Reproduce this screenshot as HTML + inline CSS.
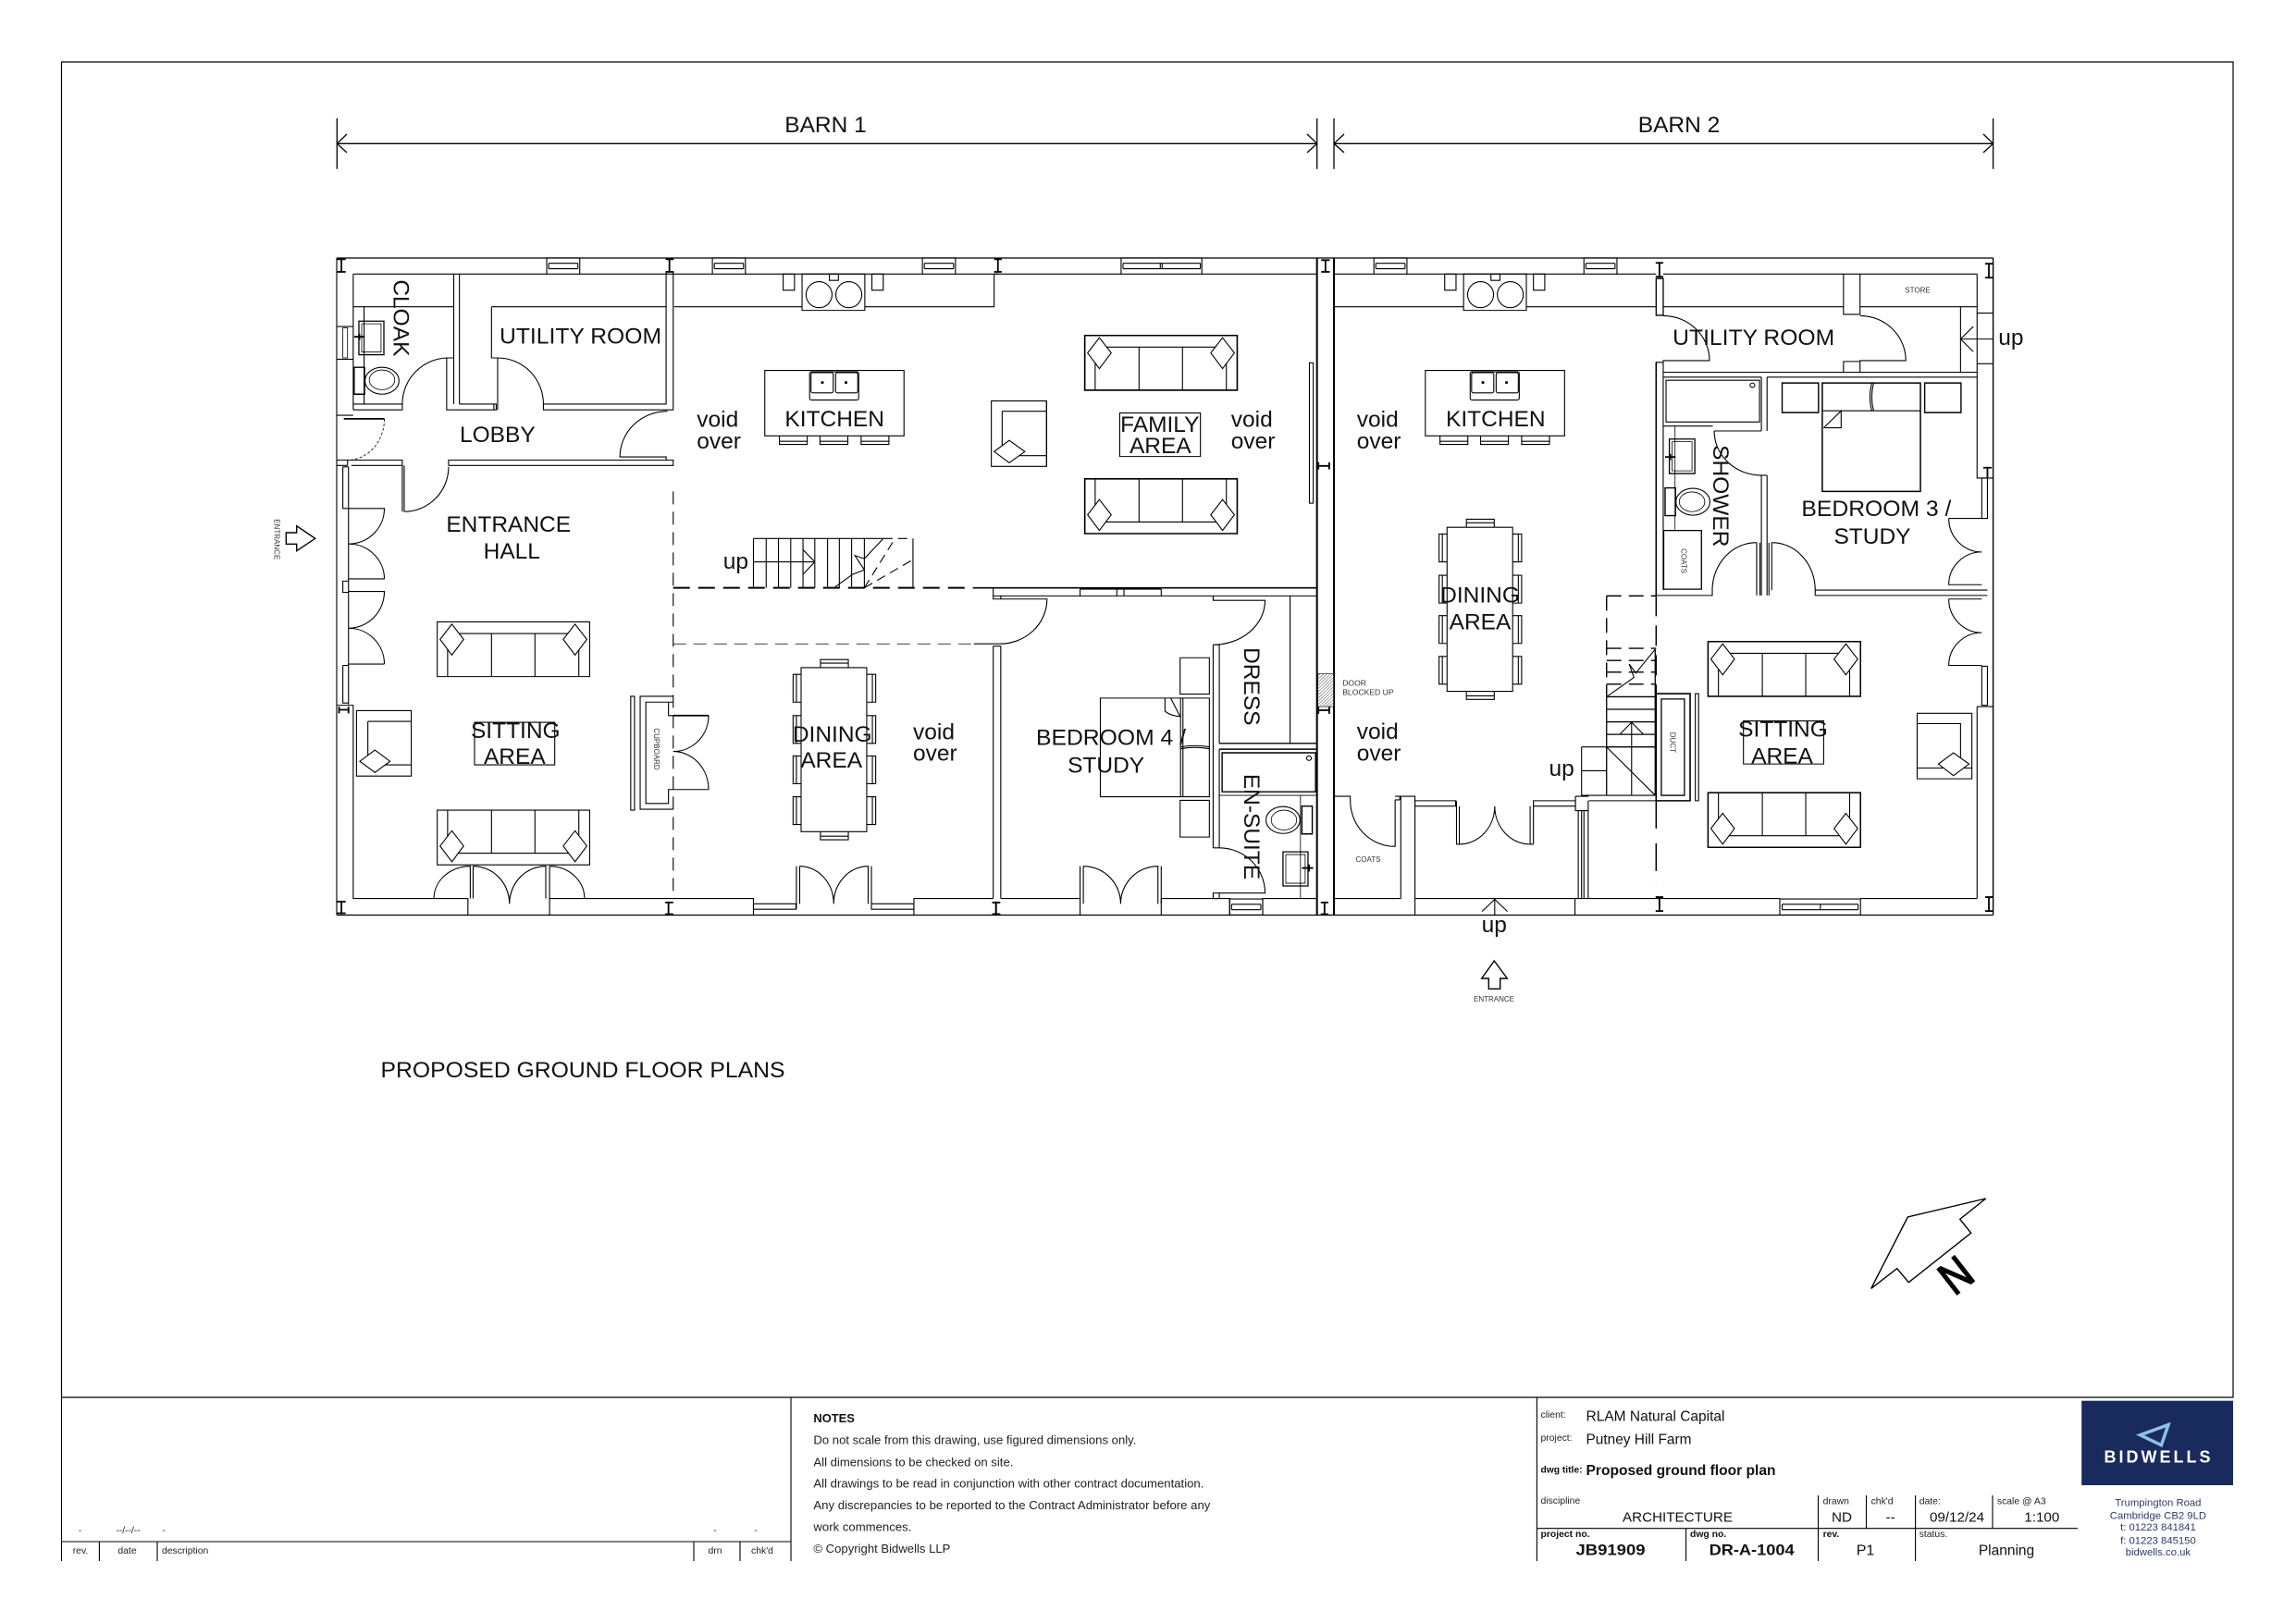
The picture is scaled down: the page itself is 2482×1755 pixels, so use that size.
<!DOCTYPE html>
<html><head><meta charset="utf-8"><title>Proposed ground floor plan</title>
<style>
html,body{margin:0;padding:0;background:#fff}
svg{display:block}
svg *{vector-effect:non-scaling-stroke}
text{font-family:"Liberation Sans",sans-serif;fill:#111;stroke:none}
.l{font-size:24.5px}
.m{text-anchor:middle}
.s{font-size:8px;fill:#333}
.a{stroke-width:1.8}
.n{stroke-width:.8}
.d{stroke-dasharray:14 8}
.dt{stroke-width:2;stroke-dasharray:18 9}
.tb{font-size:10.4px;fill:#222}
.nt{font-size:12.5px;fill:#222}
.ad{font-size:11.3px;fill:#2f3a66;text-anchor:middle}
</style></head><body>
<svg xmlns="http://www.w3.org/2000/svg" width="2482" height="1755" viewBox="0 0 2482 1755" fill="none" stroke="#000" stroke-width="1.1">
<defs>
<pattern id="h" width="5" height="5" patternUnits="userSpaceOnUse" patternTransform="rotate(45)"><rect width="5" height="5" fill="#fff" stroke="none"/><line x1="0" y1="0" x2="0" y2="5" stroke="#222" stroke-width="1.6"/></pattern>
<g id="sofaT"><rect width="323" height="122"/><path d="M22 26V122M300 26V122M22 26H300M115 26V122M207 26V122"/><polygon fill="#fff" points="31,5 56,39 31,74 6,39"/><polygon fill="#fff" points="292,5 317,39 292,74 267,39"/></g>
<g id="sofaB"><rect width="323" height="122"/><path d="M22 0V96M300 0V96M22 96H300M115 0V96M207 0V96"/><polygon fill="#fff" points="31,46 56,80 31,115 6,80"/><polygon fill="#fff" points="292,46 317,80 292,115 267,80"/></g>
<g id="win"><rect width="70" height="36"/><path d="M4 12H66M4 24H66M4 12V24M66 12V24"/></g>
<g id="chim"><rect width="133" height="81"/><ellipse cx="36" cy="46" rx="27.5" ry="29"/><ellipse cx="99" cy="46" rx="27.5" ry="29"/><rect x="58" width="19" height="14"/><rect x="-40" width="24" height="36"/><rect x="148" width="24" height="36"/></g>
<g id="isl"><rect width="295" height="146"/><rect x="95" y="3" width="104" height="63" rx="4"/><rect x="98" y="5" width="47" height="45" rx="4"/><rect x="150" y="5" width="47" height="45" rx="4"/><circle cx="122" cy="27" r="2" fill="#000"/><circle cx="172" cy="27" r="2" fill="#000"/><path d="M31 146V165H90V146M31 158H90M117 146V165H176V146M117 158H176M204 146V165H263V146M204 158H263"/></g>
<g id="tab"><rect x="17" y="18" width="139" height="366" fill="#fff"/><path d="M17 33H0V95H17M7 33V95M17 125H0V187H17M7 125V187M17 215H0V277H17M7 215V277M17 306H0V368H17M7 306V368M156 33H175V95H156M168 33V95M156 125H175V187H156M168 125V187M156 215H175V277H156M168 215V277M156 306H175V368H156M168 306V368M58 18V0H117V18M58 8H117M58 384V402H117V384M58 394H117"/></g>
<g id="ch"><rect width="116" height="146"/><path d="M24 24H116M24 24V121H116"/><polygon fill="#fff" points="39,88 71,113 39,138 6,113"/></g>
</defs>

<!-- sheet frame -->
<rect x="66.5" y="67" width="2347.5" height="1444" stroke-width="1.2"/>
<!-- dimensions -->
<path d="M364.3 128V182.7M1423.7 128V182.7M1442 128V182.7M2154.6 128V182.7M364.3 155.3H1423.7M1442 155.3H2154.6M375 145L364.3 155.3L375 165M1413 145L1423.7 155.3L1413 165M1453 145L1442 155.3L1453 165M2144 145L2154.6 155.3L2144 165" stroke-width="1.3"/>
<text class="l m" x="892.5" y="143">BARN 1</text>
<text class="l m" x="1815" y="143">BARN 2</text>
<!-- plan outer lines -->
<path d="M364 279H2154.6M364 989.5H2154.6" stroke-width="1.3"/>

<!-- ========== BARN 1 WEST ========== -->
<g transform="translate(340,260) scale(.5102,.4847)">
<path d="M47 39V1505M82 75H492M562 75H843M912 75H1288M1356 75H1450M82 75V378M47 192H82M47 265H82M47 390H82M82 365H186V378H82M105 148V365"/>
<path d="M60 195H70V262H60ZM60 195V262" class="n"/>
<path d="M82 148H295M295 75V262H280V365M295 262V365M280 365V378H295M307 75V365M307 365H385V378H285M380 365V378M388 262V378M375 148H745M375 148V262H388M485 365H745V70H760V378H485V365"/>
<path d="M762 148H1033M1166 148H1440V75"/>
<!-- doors west -->
<path d="M284 262A98 103 0 0 0 186 365M388 262A97 103 0 0 1 485 365M748 381A101 102 0 0 0 647 483H745V490M190 605A94 100 0 0 0 284 505"/>
<path d="M148 398A78 92 0 0 1 70 490" stroke-dasharray="3 2" class="n"/>
<path d="M62 398H148" class="a"/>
<path d="M47 490H186V605M47 502H70M70 490V502M190 502V605M78 502H186M284 502V490H760V502H284"/>
<path d="M72 505V1035M60 505H72M60 505V598H72M60 948V1032H72M60 948H72M60 760H72V785H60Z"/>
<path d="M72 598H148A76 79 0 0 1 72 677M148 755A76 78 0 0 0 72 677M72 755H148M72 783H148A76 82 0 0 1 72 865M148 945A76 80 0 0 0 72 865M72 945H148"/>
<path d="M47 1037H82V1468H325V1505M498 1505V1468H930V1505M1270 1505V1468H1438"/>
<path d="M253 1468A77 72 0 0 1 330 1396V1468M336 1396V1468M336 1396A77 84 0 0 1 413 1480A77 84 0 0 1 490 1396V1468M498 1396V1468M498 1396A74 72 0 0 1 572 1468"/>
<path d="M930 1480H1020V1492H930ZM1021 1396V1492M1028 1396V1480M1028 1396A72 84 0 0 1 1100 1480A73 84 0 0 1 1173 1396V1480M1180 1396V1492M1180 1480H1270V1492H1180Z"/>
<!-- dashed void lines -->
<path d="M760 560V1468" class="d"/>
<path d="M760 775H1397" class="dt"/>
<path d="M760 900H1395" class="d n"/>
<!-- stairs -->
<path d="M930 665V775M957 665V775M983 665V775M1009 665V775M1035 665V775M1060 665V775M1087 665V775M1112 665V775M1138 665V775M1165 665V775M930 665H1205M1268 665V775M930 717H1060M1035 690L1060 717L1035 745M1103 773L1140 745L1165 735L1145 703L1165 710L1205 665"/>
<path d="M1165 775L1230 665M1165 775L1268 712M1205 665H1268" stroke-dasharray="10 6"/>
<!-- windows -->
<use href="#win" x="492" y="39"/><use href="#win" x="843" y="39"/><use href="#win" x="1288" y="39"/>
<!-- I marks -->
<path d="M57 40V72M48 42H66M48 70H66M752 40V72M744 42H761M744 70H761M1448 40V72M1440 42H1456M1440 70H1456M57 1473V1503M48 1475H66M48 1501H66M750 1475V1505M743 1477H760M743 1503H760M1444 1475V1505M1436 1477H1453M1436 1503H1453M52 1047H72M52 1040V1055M72 1040V1055" class="a"/>
<!-- cloak fittings -->
<rect x="94" y="180" width="53" height="75" stroke-width="1.3"/><rect x="100" y="186" width="41" height="63" class="n"/><path d="M84 215H106M95 208V222" class="a"/>
<rect x="84" y="283" width="22" height="60" stroke-width="1.4"/><ellipse cx="143" cy="313" rx="36" ry="30"/><ellipse cx="143" cy="311" rx="27" ry="22" class="n"/>
<!-- kitchen -->
<use href="#chim" x="1033" y="75"/><use href="#isl" x="954" y="290"/>
<!-- furniture -->
<use href="#sofaT" x="260" y="851"/><use href="#sofaB" x="260" y="1271"/>
<rect x="89" y="1049" width="116" height="146"/><path d="M113 1073H205M113 1073V1170H205"/><polygon fill="#fff" points="128,1137 160,1162 128,1187 96,1162"/>
<rect x="339" y="1075" width="170" height="95"/>
<rect x="670" y="1017" width="8" height="254"/>
<path d="M760 1017H690V1269H760M760 1030H702V1256H750V1225H760M702 1030H750V1060H760"/>
<path d="M760 1060H835" class="a"/><path d="M835 1060A75 80 0 0 1 760 1140M835 1225A75 85 0 0 0 760 1140M760 1225H835M835 1060V1062"/>
<use href="#tab" x="1014" y="935"/>
</g>

<!-- ========== BARN 1 EAST ========== -->
<g transform="translate(1040,260) scale(.5102,.4847)">
<path d="M68 75H337M508 75H752"/>
<rect x="337" y="39" width="171" height="36"/><path d="M341 51H505M341 63H505M341 51V63M505 51V63M420 51V63M424 51V63"/>
<path d="M752 39V1505M788 39V1505" stroke-width="2"/>
<path d="M770 42V72M761 44H779M761 70H779M755 503H778M755 495V511M778 495V511M755 1048H778M755 1040V1056M778 1040V1056M72 1475V1505M64 1477H80M64 1503H80M768 1475V1505M760 1477H776M760 1503H776" class="a"/>
<use href="#sofaT" x="260" y="212"/><rect x="260" y="212" width="323" height="122" stroke-width="1.6"/>
<use href="#sofaB" x="260" y="532"/><rect x="260" y="532" width="323" height="122" stroke-width="1.6"/>
<rect x="334" y="385" width="171" height="97"/>
<rect x="736" y="273" width="8" height="313"/>
<path d="M25 775H752" stroke-width="1.6"/>
<path d="M66 775V793H752M250 778V793M328 778V793M343 778V793M422 778V793M250 778H422"/>
<path d="M82 793V800H180A100 100 0 0 1 80 900H25M66 793V800H82"/>
<path d="M66 905H82M66 905V1468M82 905V1468"/>
<path d="M82 1468H250V1505M422 1505V1468H567V1505M637 1505V1468H752"/>
<!-- bedroom french -->
<path d="M250 1396V1480M257 1396V1480M257 1396A79 84 0 0 1 336 1480A79 84 0 0 1 415 1396V1480M422 1396V1480"/>
<!-- dressing -->
<path d="M532 793V803H545M545 803H642A110 99 0 0 1 532 902H545M532 902V1355M545 902V1122M545 1135V1355M532 1355H545M695 793V1122" />
<path d="M545 1122H752M545 1135H752" stroke-width="1.4"/>
<rect x="551" y="1143" width="198" height="87" stroke-width="1.4"/><circle cx="735" cy="1155" r="5"/>
<path d="M545 1238H752M717 1238V1468" class="n"/>
<path d="M545 1355A97 101 0 0 1 642 1456H532V1468H545V1456"/>
<rect x="720" y="1262" width="22" height="62" stroke-width="1.4"/><ellipse cx="680" cy="1293" rx="36" ry="30"/><ellipse cx="682" cy="1293" rx="27" ry="22" class="n"/>
<rect x="680" y="1364" width="53" height="76" stroke-width="1.3"/><rect x="686" y="1370" width="41" height="64" class="n"/><path d="M720 1400H744M735 1392V1408" class="a"/>
<use href="#win" x="567" y="1469"/>
<!-- bed -->
<rect x="293" y="1021" width="231" height="220"/>
<path d="M463 1021V1241M468 1021V1241M463 1130Q493 1124 524 1130M463 1134Q493 1128 524 1134"/>
<path d="M430 1021V1050Q440 1060 462 1062L442 1021"/>
<rect x="462" y="931" width="62" height="81"/><rect x="462" y="1249" width="62" height="82"/>
<rect x="754" y="967" width="33" height="73" fill="url(#h)" stroke-width=".6"/>
<!-- family armchair -->
<rect x="62" y="358" width="117" height="146"/><path d="M85 381H179M85 381V480H179M179 358V504"/><polygon fill="#fff" points="100,446 133,471 100,496 68,471"/>
</g>

<!-- ========== BARN 2 ========== -->
<g transform="translate(1400,260) scale(.5102,.4847)">
<path d="M82 75H167M236 75H612M680 75H765M780 75H1445M82 148H357M491 148H765"/>
<use href="#win" x="167" y="39"/><use href="#win" x="612" y="39"/>
<use href="#chim" x="357" y="75"/><use href="#isl" x="276" y="290"/>
<use href="#tab" x="305" y="622"/>
<!-- I marks -->
<path d="M772 48V83M764 50H780M764 81H780M1470 50V85M1462 52H1478M1462 83H1478M1467 505V530M1458 507H1476M772 1463V1498M764 1465H780M764 1496H780M1470 1463V1498M1462 1465H1478M1462 1496H1478" class="a"/>
<!-- right walls -->
<path d="M1479 39V1505" stroke-width="1.4"/>
<path d="M1445 75V530H1479M1445 1040H1479M1445 1040V1468M1445 162H1479M1445 275H1479"/>
<rect x="1455" y="530" width="12" height="90"/><rect x="1455" y="950" width="12" height="87"/>
<path d="M1385 620H1455M1385 620A70 75 0 0 0 1455 695A70 73 0 0 0 1385 768H1455M1385 800H1455M1385 800A70 75 0 0 0 1455 875A70 73 0 0 0 1385 948H1455"/>
<!-- utility -->
<rect x="765" y="85" width="15" height="82" stroke-width="1.3"/>
<path d="M780 168A98 100 0 0 1 878 268H780V272H765V792M780 272V780"/>
<path d="M765 272V792" stroke-width="1.6"/>
<path d="M780 148H1162M1197 148H1445M1162 75V165H1197V75M1197 168A97 100 0 0 1 1294 268H1197V270H1162V294M1197 270V294"/>
<path d="M1410 148V294M780 294H1445M1000 305H1445M780 305H988"/>
<path d="M1437 192L1410 220L1437 248M1410 220H1479"/>
<!-- shower room -->
<path d="M988 305V425M1000 305V425M780 414H885M888 425H988M888 425A100 99 0 0 0 988 524H1000M988 524V792M1000 524V792M978 674V792M985 674V792M1004 674V792M1010 674V780"/>
<rect x="786" y="312" width="198" height="93"/><circle cx="969" cy="323" r="5"/>
<path d="M805 414V645" class="n"/>
<rect x="793" y="443" width="54" height="77" stroke-width="1.3"/><rect x="799" y="449" width="42" height="65" class="n"/><path d="M784 483H806M795 476V490" class="a"/>
<rect x="784" y="552" width="22" height="62" stroke-width="1.4"/><ellipse cx="843" cy="583" rx="36" ry="30"/><ellipse cx="841" cy="583" rx="27" ry="22" class="n"/>
<rect x="781" y="647" width="80" height="131" stroke-width="1.3"/>
<path d="M884 780A94 106 0 0 1 978 674M1010 674A92 106 0 0 1 1102 780M765 792H884V780M1102 780H1467M1102 792H1467M1102 780V792"/>
<!-- bed -->
<rect x="1117" y="318" width="208" height="242" stroke-width="1.5"/>
<path d="M1117 380H1325M1222 318Q1214 350 1222 380M1226 318Q1218 350 1226 380M1120 418L1157 380V418H1120"/>
<rect x="1032" y="318" width="77" height="66" stroke-width="1.4"/><rect x="1334" y="318" width="77" height="66" stroke-width="1.4"/>
<!-- stairs -->
<path d="M660 793H765M660 793V1018M660 910H765M660 937H765M660 963H765M660 990H765" stroke-dasharray="16 8" stroke-width="1.4"/>
<path d="M765 793V1011" stroke-dasharray="22 10" stroke-width="1.5"/>
<path d="M765 1250V1440" stroke-dasharray="30 16" stroke-width="1.5"/>
<path d="M660 1018V1238M763 912V1238M660 1018H763M660 1046H763M660 1074H763M660 1102H763M660 1130H763" stroke-width="1.3"/>
<path d="M660 1018L718 975L708 945L722 965L763 912"/>
<path d="M607 1130H660M607 1183H660M607 1130V1238M660 1130L763 1238M713 1075V1238M688 1102L713 1075L738 1102M607 1238H763"/>
<rect x="765" y="1011" width="72" height="239" stroke-width="1.6"/><rect x="776" y="1023" width="49" height="215" stroke-width="1.3"/>
<rect x="848" y="1011" width="7" height="239"/>
<!-- coats / entry -->
<path d="M82 1240H117V1250M117 1250A95 102 0 0 0 212 1352V1248M222 1248V1240M212 1240H254V1468M224 1240V1468M212 1248H222M82 1468H224M254 1468H1027M1198 1468H1445M254 1468V1505M593 1468V1505"/>
<path d="M254 1250H340V1262H254ZM342 1250V1347M348 1262V1347M348 1347A75 85 0 0 0 423 1262A75 85 0 0 0 498 1347V1262M505 1250V1347M498 1347H505M342 1347H348M505 1250H594V1262H505Z"/>
<path d="M594 1240H622M594 1240V1272H622M622 1250H765M600 1272V1468M607 1272V1468M612 1272V1468M621 1250V1468"/>
<path d="M423 1468V1505M396 1497L423 1470L450 1497"/>
<rect x="1027" y="1469" width="171" height="36"/><path d="M1032 1481H1193M1032 1493H1193M1113 1481V1493M1032 1481V1493M1193 1481V1493"/>
<!-- furniture -->
<use href="#sofaT" x="875" y="895"/><rect x="875" y="895" width="323" height="122" stroke-width="1.5"/>
<use href="#sofaB" x="875" y="1232"/><rect x="875" y="1232" width="323" height="122" stroke-width="1.5"/>
<rect x="950" y="1072" width="170" height="96"/>
<rect x="1318" y="1055" width="116" height="146"/><path d="M1318 1078H1410V1177H1318M1410 1177H1434"/><polygon fill="#fff" points="1395,1143 1428,1168 1395,1194 1363,1168"/>
</g>

<!-- labels barn 1 -->
<text class="l" transform="rotate(90 425.7 343.9)" x="425.7" y="343.9" text-anchor="middle">CLOAK</text>
<text class="l" x="540" y="371.5" textLength="175" lengthAdjust="spacingAndGlyphs">UTILITY ROOM</text>
<text class="l" x="497" y="478">LOBBY</text>
<text class="l m" x="549.7" y="575">ENTRANCE</text>
<text class="l m" x="553.3" y="604">HALL</text>
<text class="l" x="781.8" y="615">up</text>
<text class="l" x="753.3" y="461.6">void</text><text class="l" x="753.3" y="484.9">over</text>
<text class="l m" x="902.2" y="461">KITCHEN</text>
<text class="l m" x="557.3" y="798">SITTING</text><text class="l m" x="556.3" y="826">AREA</text>
<text class="l m" x="899.7" y="802">DINING</text><text class="l m" x="898.7" y="830">AREA</text>
<text class="l" x="987" y="799.5">void</text><text class="l" x="987" y="822.7">over</text>
<text class="s m" transform="rotate(90 706.8 810)" x="706.8" y="810">CUPBOARD</text>
<text class="l m" x="1253.8" y="467">FAMILY</text><text class="l m" x="1254.3" y="490.2">AREA</text>
<text class="l" x="1330.8" y="461.6">void</text><text class="l" x="1330.8" y="484.9">over</text>
<text class="l" x="1120" y="805.3" textLength="162" lengthAdjust="spacingAndGlyphs">BEDROOM 4 /</text><text class="l m" x="1195.6" y="835.3">STUDY</text>
<text class="l m" transform="rotate(90 1345 742.3)" x="1345" y="742.3">DRESS</text>
<text class="l m" transform="rotate(90 1345 894)" x="1345" y="894">EN-SUITE</text>
<text x="1451.2" y="741.3" style="font-size:8.6px;fill:#333">DOOR</text>
<text x="1451.2" y="751.5" style="font-size:8.6px;fill:#333">BLOCKED UP</text>
<!-- labels barn 2 -->
<text class="l m" x="1616.8" y="461">KITCHEN</text>
<text class="l" x="1466.8" y="461.6">void</text><text class="l" x="1466.8" y="484.9">over</text>
<text class="l" x="1466.8" y="799">void</text><text class="l" x="1466.8" y="822.3">over</text>
<text class="l m" x="1600" y="651.6">DINING</text><text class="l m" x="1600" y="680.7">AREA</text>
<text class="l" x="1808.2" y="373" textLength="175" lengthAdjust="spacingAndGlyphs">UTILITY ROOM</text>
<text class="l" x="1947.4" y="558.1" textLength="162" lengthAdjust="spacingAndGlyphs">BEDROOM 3 /</text><text class="l m" x="2024" y="588.1">STUDY</text>
<text class="l m" transform="rotate(90 1852 536.3)" x="1852" y="536.3">SHOWER</text>
<text class="l m" x="1927.5" y="796.6">SITTING</text><text class="l m" x="1926.5" y="825.6">AREA</text>
<text class="l" x="2160.2" y="373">up</text>
<text class="l" x="1674.5" y="839.2">up</text>
<text class="l m" x="1615.3" y="1008">up</text>
<text class="s m" x="1479" y="931.8">COATS</text>
<text class="s m" transform="rotate(90 1817.3 606.6)" x="1817.3" y="606.6">COATS</text>
<text class="s m" transform="rotate(90 1805.6 802.9)" x="1805.6" y="802.9">DUCT</text>
<text class="s m" x="2073" y="316.7">STORE</text>

<!-- entrances -->
<polygon points="309.3,576 320.7,576 320.7,568.7 340.7,582.3 320.7,595.7 320.7,588.3 309.3,588.3" stroke-width="1.4"/>
<text class="s m" transform="rotate(90 296.5 583.3)" x="296.5" y="583.3">ENTRANCE</text>
<polygon points="1615.3,1039 1629.3,1058 1621.7,1058 1621.7,1069.3 1609.3,1069.3 1609.3,1058 1601.7,1058" stroke-width="1.4"/>
<text class="s m" x="1615" y="1083">ENTRANCE</text>

<text class="l" x="411.5" y="1165" textLength="437" lengthAdjust="spacingAndGlyphs">PROPOSED GROUND FLOOR PLANS</text>

<!-- north -->
<polygon points="2146.7,1296 2062.3,1316 2022.7,1393.3 2050.7,1371.7 2063.3,1386.7 2130.7,1333.3 2118.7,1318.3" stroke-width="1.4"/>
<text transform="translate(2124.8 1392.4) rotate(-38) scale(.85 1)" text-anchor="middle" style="font-size:50px;fill:#000;stroke:#000;stroke-width:1.6">N</text>

<!-- revision table -->
<path d="M66.5 1511V1688M855 1511V1688M66.5 1667H855M107.4 1667V1688M170 1667V1688M750 1667V1688M800 1667V1688"/>
<g class="tb">
<text class="tb m" x="86.5" y="1658">-</text><text class="tb m" x="138.6" y="1658">--/--/--</text><text class="tb m" x="177" y="1658">-</text><text class="tb m" x="773" y="1658">-</text><text class="tb m" x="817" y="1658">-</text>
<text class="tb m" x="87" y="1680">rev.</text><text class="tb m" x="137.5" y="1680">date</text><text class="tb" x="175" y="1680">description</text><text class="tb m" x="773" y="1680">drn</text><text class="tb m" x="824" y="1680">chk'd</text>
</g>
<!-- notes -->
<text x="879.4" y="1538" style="font-size:12.9px;font-weight:bold">NOTES</text>
<text class="nt" x="879.4" y="1561.7" textLength="349" lengthAdjust="spacingAndGlyphs">Do not scale from this drawing, use figured dimensions only.</text>
<text class="nt" x="879.4" y="1585.3" textLength="216" lengthAdjust="spacingAndGlyphs">All dimensions to be checked on site.</text>
<text class="nt" x="879.4" y="1608.7" textLength="422" lengthAdjust="spacingAndGlyphs">All drawings to be read in conjunction with other contract documentation.</text>
<text class="nt" x="879.4" y="1632" textLength="429" lengthAdjust="spacingAndGlyphs">Any discrepancies to be reported to the Contract Administrator before any</text>
<text class="nt" x="879.4" y="1655.7" textLength="106" lengthAdjust="spacingAndGlyphs">work commences.</text>
<text class="nt" x="879.4" y="1679" textLength="148" lengthAdjust="spacingAndGlyphs">© Copyright Bidwells LLP</text>

<!-- title block -->
<path d="M1661.4 1511V1688M1661.4 1652.7H2246M1965.5 1617V1688M2017.5 1617V1652.7M2070.6 1617V1688M2154 1617V1652.7M1822.6 1652.7V1688"/>
<text class="tb" x="1665.5" y="1533">client:</text>
<text x="1714.5" y="1536.7" style="font-size:15.6px" textLength="150" lengthAdjust="spacingAndGlyphs">RLAM Natural Capital</text>
<text class="tb" x="1665.5" y="1558">project:</text>
<text x="1714.5" y="1561.7" style="font-size:15.6px" textLength="114" lengthAdjust="spacingAndGlyphs">Putney Hill Farm</text>
<text x="1665.5" y="1592.7" style="font-size:10.4px;font-weight:bold" textLength="45" lengthAdjust="spacingAndGlyphs">dwg title:</text>
<text x="1714.5" y="1595" style="font-size:15.6px;font-weight:bold" textLength="205" lengthAdjust="spacingAndGlyphs">Proposed ground floor plan</text>
<text class="tb" x="1665.5" y="1626">discipline</text>
<text class="m" x="1813.5" y="1645.7" style="font-size:15.2px">ARCHITECTURE</text>
<text class="tb" x="1970.6" y="1626.7">drawn</text><text class="tb" x="2022.6" y="1626.7">chk'd</text><text class="tb" x="2074.7" y="1626.7">date:</text><text class="tb" x="2158.9" y="1626.7">scale @ A3</text>
<text class="m" x="1991" y="1645.7" style="font-size:15.2px">ND</text><text class="m" x="2043.6" y="1645.7" style="font-size:15.2px">--</text><text class="m" x="2115.5" y="1645.7" style="font-size:15.2px">09/12/24</text><text class="m" x="2207.3" y="1645.7" style="font-size:15.2px">1:100</text>
<text x="1665.5" y="1662" style="font-size:10.4px;font-weight:bold">project no.</text><text x="1827" y="1662" style="font-size:10.4px;font-weight:bold">dwg no.</text><text x="1970.6" y="1662" style="font-size:10.4px;font-weight:bold">rev.</text><text class="tb" x="2074.7" y="1662">status.</text>
<text class="m" x="1741" y="1681.7" style="font-size:16.5px;font-weight:bold" textLength="75" lengthAdjust="spacingAndGlyphs">JB91909</text>
<text class="m" x="1893.6" y="1681.7" style="font-size:16.5px;font-weight:bold" textLength="92" lengthAdjust="spacingAndGlyphs">DR-A-1004</text>
<text class="m" x="2016.5" y="1681.7" style="font-size:16px">P1</text>
<text class="m" x="2169" y="1681.7" style="font-size:15.5px">Planning</text>
<!-- logo -->
<rect x="2250.2" y="1514.7" width="163.8" height="91.3" fill="#192a5c" stroke="none"/>
<polygon points="2344,1540.7 2313.5,1551.7 2336.4,1562.7" stroke="#8fc0e8" stroke-width="3.5" fill="none"/>
<text x="2333.5" y="1581.7" text-anchor="middle" style="font-size:18px;font-weight:bold;letter-spacing:3px;fill:#fff">BIDWELLS</text>
<text class="ad" x="2332.9" y="1628.3">Trumpington Road</text>
<text class="ad" x="2332.9" y="1642.7">Cambridge CB2 9LD</text>
<text class="ad" x="2332.9" y="1655">t: 01223 841841</text>
<text class="ad" x="2332.9" y="1669.3">f: 01223 845150</text>
<text class="ad" x="2332.9" y="1682">bidwells.co.uk</text>
</svg>
</body></html>
